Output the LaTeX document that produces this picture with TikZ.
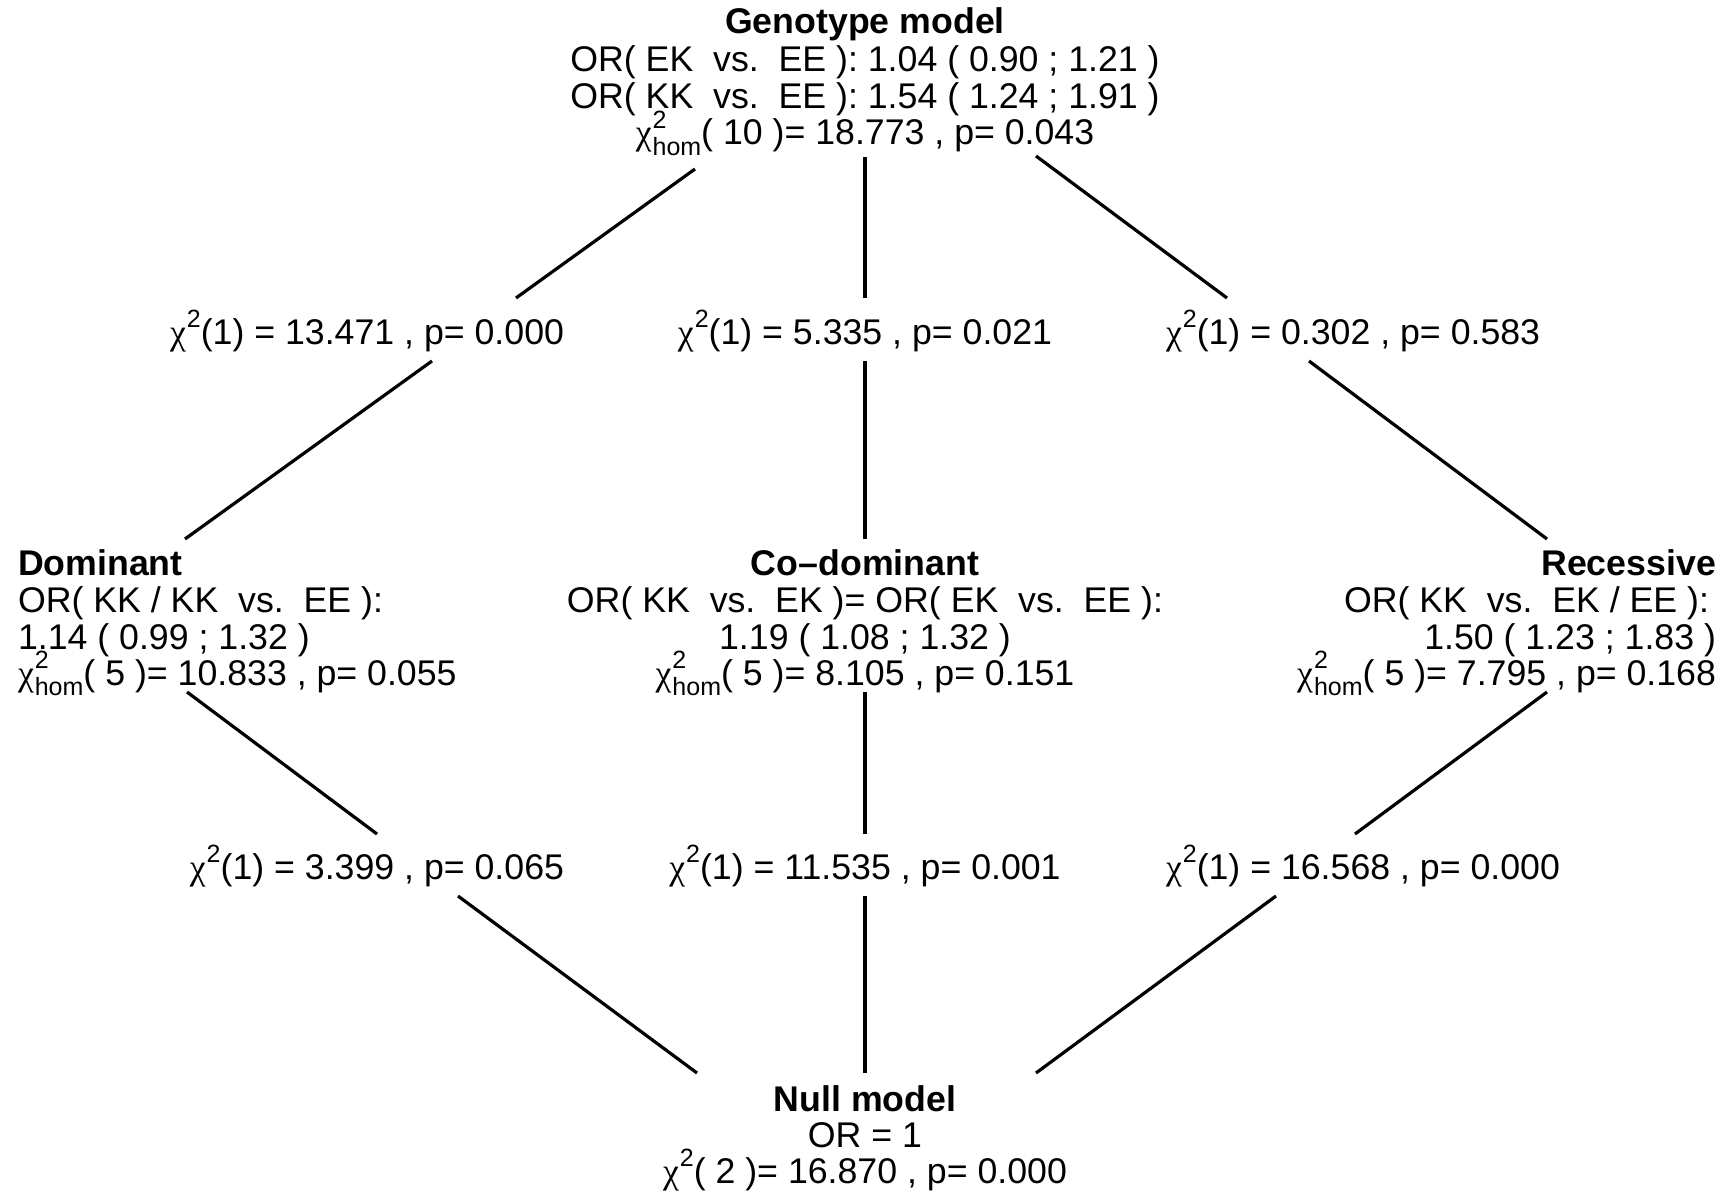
\documentclass[tikz,border=0pt]{standalone}
\usepackage{fontspec}
\setmainfont{Liberation Sans}
\newfontfamily\chifont{Liberation Serif}
\frenchspacing
\newcommand{\chisym}{{\chifont χ}}
\newcommand{\smallsz}{\fontsize{25}{25}\selectfont}
\newcommand{\chisq}{\chisym\kern1pt\raisebox{0.45em}{\smallsz 2}}
\newcommand{\chihom}{\chisym\kern1pt\rlap{\raisebox{0.45em}{\smallsz 2}}\raisebox{-0.3em}{\smallsz hom}}
\tikzset{
  txt/.style={inner sep=0pt, outer sep=0pt, font=\fontsize{35.7}{37}\selectfont},
  ttl/.style={txt, font=\fontsize{35.7}{37}\selectfont\bfseries},
  edge/.style={line width=3.2pt, line cap=butt}
}
\begin{document}
\begin{tikzpicture}[x=1pt,y=-1pt]
\useasboundingbox (0,0) rectangle (1730,1193);
% top node
\node[ttl, anchor=base] (gen1) at (865,34) {Genotype model};
\node[txt, anchor=base] (gen2) at (865,71.5) {OR( EK~~vs.~~EE ): 1.04 ( 0.90 ; 1.21 )};
\node[txt, anchor=base] (gen3) at (865,108.5) {OR( KK~~vs.~~EE ): 1.54 ( 1.24 ; 1.91 )};
\node[txt, anchor=base] (gen4) at (865,145) {\chihom( 10 )= 18.773 , p= 0.043};
% upper labels
\node[txt, anchor=base east] (ua) at (564,344) {\chisq(1) = 13.471 , p= 0.000};
\node[txt, anchor=base] (ub) at (865,344) {\chisq(1) = 5.335 , p= 0.021};
\node[txt, anchor=base west] (uc) at (1166,344) {\chisq(1) = 0.302 , p= 0.583};
% dominant
\node[ttl, anchor=base west] (dom1) at (18,575) {Dominant};
\node[txt, anchor=base west] (dom2) at (18,612) {OR( KK / KK~~vs.~~EE ):};
\node[txt, anchor=base west] (dom3) at (18,649) {1.14 ( 0.99 ; 1.32 )};
\node[txt, anchor=base west] (dom4) at (18,685) {\chihom( 5 )= 10.833 , p= 0.055};
% co-dominant
\node[ttl, anchor=base] (cod1) at (865,575) {Co–dominant};
\node[txt, anchor=base] (cod2) at (865,612) {OR( KK~~vs.~~EK )= OR( EK~~vs.~~EE ):};
\node[txt, anchor=base] (cod3) at (865,649) {1.19 ( 1.08 ; 1.32 )};
\node[txt, anchor=base] (cod4) at (865,685) {\chihom( 5 )= 8.105 , p= 0.151};
% recessive
\node[ttl, anchor=base east] (rec1) at (1716,575) {Recessive};
\node[txt, anchor=base east] (rec2) at (1716,612) {OR( KK~~vs.~~EK / EE ):\kern7pt};
\node[txt, anchor=base east] (rec3) at (1716,649) {1.50 ( 1.23 ; 1.83 )};
\node[txt, anchor=base east] (rec4) at (1716,685) {\chihom( 5 )= 7.795 , p= 0.168};
% lower labels
\node[txt, anchor=base east] (la) at (564,879) {\chisq(1) = 3.399 , p= 0.065};
\node[txt, anchor=base] (lb) at (865,879) {\chisq(1) = 11.535 , p= 0.001};
\node[txt, anchor=base west] (lc) at (1166,879) {\chisq(1) = 16.568 , p= 0.000};
% null node
\node[ttl, anchor=base] (nul1) at (865,1111) {Null model};
\node[txt, anchor=base] (nul2) at (865,1147) {OR = 1};
\node[txt, anchor=base] (nul3) at (865,1183) {\chisq( 2 )= 16.870 , p= 0.000};
% connector end points
\coordinate (t1a) at (695,169); \coordinate (t1b) at (516,298);
\coordinate (t2a) at (865,157); \coordinate (t2b) at (865,298);
\coordinate (t3a) at (1036,156); \coordinate (t3b) at (1227,298);
\coordinate (u1a) at (432,361); \coordinate (u1b) at (185,539);
\coordinate (u2a) at (865,361); \coordinate (u2b) at (865,539);
\coordinate (u3a) at (1309,361); \coordinate (u3b) at (1547,539);
\coordinate (m1a) at (187,692); \coordinate (m1b) at (377,834);
\coordinate (m2a) at (865,692); \coordinate (m2b) at (865,834);
\coordinate (m3a) at (1547,692); \coordinate (m3b) at (1355,834);
\coordinate (b1a) at (458,896); \coordinate (b1b) at (697,1073);
\coordinate (b2a) at (865,896); \coordinate (b2b) at (865,1073);
\coordinate (b3a) at (1276,896); \coordinate (b3b) at (1036,1073);
\draw[edge] (t1a) -- (t1b);
\draw[edge] (t2a) -- (t2b);
\draw[edge] (t3a) -- (t3b);
\draw[edge] (u1a) -- (u1b);
\draw[edge] (u2a) -- (u2b);
\draw[edge] (u3a) -- (u3b);
\draw[edge] (m1a) -- (m1b);
\draw[edge] (m2a) -- (m2b);
\draw[edge] (m3a) -- (m3b);
\draw[edge] (b1a) -- (b1b);
\draw[edge] (b2a) -- (b2b);
\draw[edge] (b3a) -- (b3b);
\end{tikzpicture}
\end{document}
